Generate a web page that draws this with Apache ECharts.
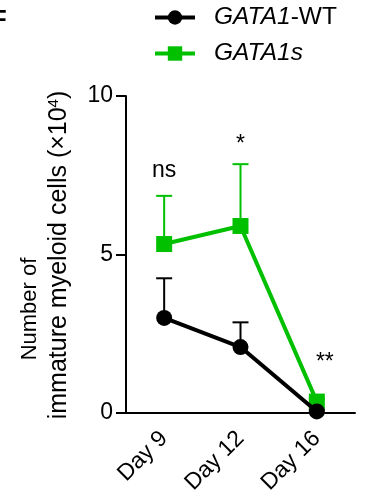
<!DOCTYPE html>
<html>
<head>
<meta charset="utf-8">
<script src="https://cdn.jsdelivr.net/npm/echarts@6/dist/echarts.min.js"></script>
<style>
html, body { margin: 0; padding: 0; background: #fff; }
#chart { width: 367px; height: 501px; }
</style>
</head>
<body>
<div id="chart"></div>
<script>
// data (units: x10^4 cells)
var days = ['Day 9', 'Day 12', 'Day 16'];
var wtMean = [3.0, 2.08, 0.05];
var wtSdTop = [4.25, 2.86, 0.1];
var gsMean = [5.33, 5.9, 0.36];
var gsSdTop = [6.85, 7.85, 0.45];
var sigText = ['ns', '*', '**'];
var sigY = [7.65, 8.45, 1.6];
var yTicks = [0, 5, 10];

var FONT = 'Liberation Sans';
var GREEN = '#00c000';
var BLACK = '#000000';

// error bar (upper SD only, with cap)
function errBars(name, color, means, tops, z) {
	return {
		type: 'custom',
		name: name,
		z: z,
		silent: true,
		data: means.map(function (m, i) { return [i, m, tops[i]]; }),
		renderItem: function (params, api) {
			var base = api.coord([api.value(0), api.value(1)]);
			var top = api.coord([api.value(0), api.value(2)]);
			var half = 8;
			return {
				type: 'group',
				children: [
					{ type: 'line', shape: { x1: base[0], y1: base[1], x2: top[0], y2: top[1] }, style: { stroke: color, lineWidth: 2 } },
					{ type: 'line', shape: { x1: top[0] - half, y1: top[1], x2: top[0] + half, y2: top[1] }, style: { stroke: color, lineWidth: 2 } }
				]
			};
		}
	};
}

var myChart = echarts.init(document.getElementById('chart'));
var option = {
	backgroundColor: '#fff',
	animation: false,
	textStyle: { fontFamily: FONT },
	grid: { left: 126, right: 12, top: 96, bottom: 88 },
	legend: {
		data: ['GATA1-WT', 'GATA1s'],
		orient: 'vertical',
		left: 148,
		top: 0,
		itemWidth: 40,
		itemHeight: 18,
		itemGap: 11,
		lineStyle: { width: 4 },
		textStyle: {
			fontFamily: FONT, fontSize: 24.5, color: '#000', padding: [0, 0, 0, 14],
			rich: { i: { fontFamily: FONT, fontSize: 24.5, fontStyle: 'italic', color: '#000' } }
		},
		formatter: function (name) {
			return name == 'GATA1-WT' ? '{i|GATA1}-WT' : '{i|GATA1s}';
		}
	},
	xAxis: {
		type: 'category',
		data: days,
		boundaryGap: true,
		axisLine: { lineStyle: { color: BLACK, width: 2 } },
		axisTick: { alignWithLabel: true, length: 10, lineStyle: { color: BLACK, width: 2 } },
		axisLabel: { rotate: 45, margin: 22, fontFamily: FONT, fontSize: 23, color: '#000', interval: 0 }
	},
	yAxis: {
		type: 'value',
		min: 0,
		max: 10,
		interval: 5,
		axisLine: { show: true, lineStyle: { color: BLACK, width: 2 } },
		axisTick: { show: true, length: 10, lineStyle: { color: BLACK, width: 2 } },
		axisLabel: {
			margin: 13, fontFamily: FONT, fontSize: 23, color: '#000',
			formatter: function (v) { return yTicks.indexOf(v) >= 0 ? String(v) : ''; }
		},
		splitLine: { show: false }
	},
	graphic: [
		{ type: 'text', left: -8, top: 8, style: { text: 'F', fontFamily: FONT, fontSize: 24, fontWeight: 'bold', fill: '#000' } },
		{
			type: 'text', x: 30, y: 309, rotation: Math.PI / 2,
			style: { text: 'Number of', fontFamily: FONT, fontSize: 22, fill: '#000', align: 'center', verticalAlign: 'middle' }
		},
		{
			type: 'text', x: 59, y: 255, rotation: Math.PI / 2,
			style: {
				text: 'immature myeloid cells (×10{sup|4})',
				fontFamily: FONT, fontSize: 25, fill: '#000', align: 'center', verticalAlign: 'middle',
				rich: { sup: { fontFamily: FONT, fontSize: 15, verticalAlign: 'top', fill: '#000' } }
			}
		}
	],
	series: [
		errBars('GATA1s SD', GREEN, gsMean, gsSdTop, 1),
		{
			name: 'GATA1s',
			type: 'line',
			z: 2,
			data: gsMean,
			symbol: 'rect',
			symbolSize: 16,
			lineStyle: { color: GREEN, width: 4 },
			itemStyle: { color: GREEN }
		},
		errBars('GATA1-WT SD', BLACK, wtMean, wtSdTop, 3),
		{
			name: 'GATA1-WT',
			type: 'line',
			z: 4,
			data: wtMean,
			symbol: 'circle',
			symbolSize: 16,
			lineStyle: { color: BLACK, width: 4 },
			itemStyle: { color: BLACK }
		},
		{
			name: 'sig',
			type: 'scatter',
			z: 5,
			silent: true,
			symbolSize: 1,
			itemStyle: { color: 'transparent', opacity: 1 },
			data: sigY.map(function (y, i) {
				return { value: [i, y], label: { offset: i == 2 ? [8, 0] : [0, 0] } };
			}),
			label: {
				show: true, position: 'inside', fontFamily: FONT, fontSize: 23, color: '#000',
				formatter: function (p) { return sigText[p.dataIndex]; }
			}
		}
	]
};
myChart.setOption(option);
</script>
</body>
</html>
